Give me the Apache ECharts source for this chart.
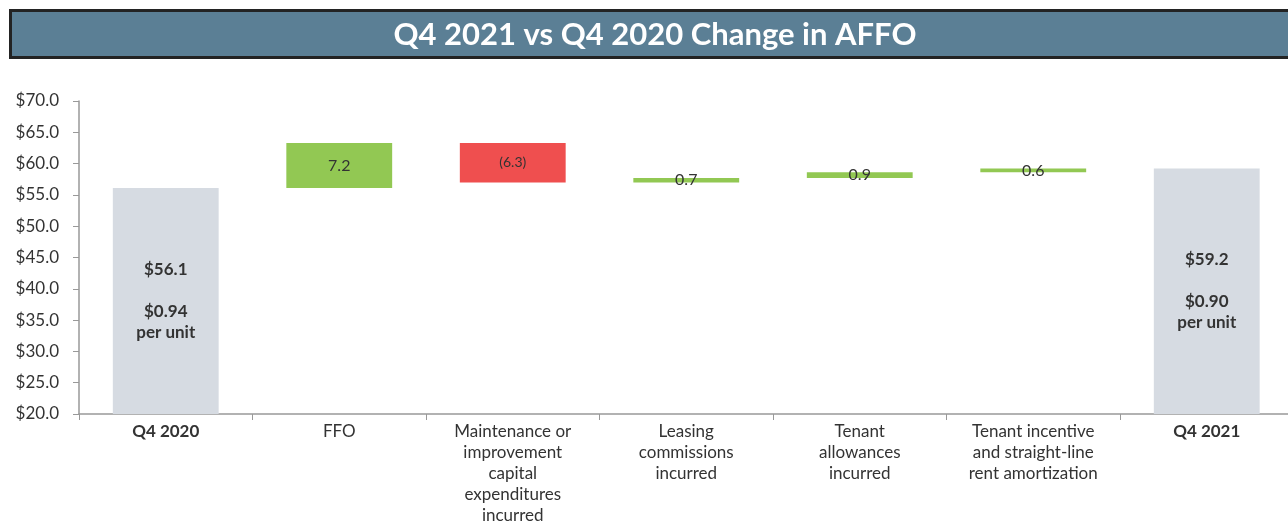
<!DOCTYPE html>
<html>
<head>
<meta charset="utf-8">
<title>Q4 2021 vs Q4 2020 Change in AFFO</title>
<script src="https://cdn.jsdelivr.net/npm/echarts@6/dist/echarts.min.js"></script>
<style>
	* { margin: 0; padding: 0; }
	body { background: #fff; }
	#main { width: 1288px; height: 523px; }
</style>
</head>
<body>
<div id="main"></div>
<script>
	// 分类与数据
	let categories = ['Q4 2020', 'FFO', 'Maintenance or\nimprovement\ncapital\nexpenditures\nincurred',
		'Leasing\ncommissions\nincurred', 'Tenant\nallowances\nincurred',
		'Tenant incentive\nand straight-line\nrent amortization', 'Q4 2021'];
	let startTotal = 56.1;
	let endTotal = 59.2;
	let changes = [7.2, -6.3, 0.7, 0.9, 0.6];
	let perUnit = ['$0.94', '$0.90'];
	let yMin = 20, yMax = 70, yStep = 5;

	let myColor = { total: '#d6dbe2', up: '#92c853', down: '#ef4f4f', text: '#333333', axis: '#999999' };
	let font = 'Lato';

	// waterfall: transparent base + visible step
	let baseData = [0];
	let stepData = [{ value: startTotal, itemStyle: { color: myColor.total }, kind: 'total', unit: perUnit[0] }];
	let running = startTotal;
	changes.forEach((c) => {
		let low = c >= 0 ? running : running + c;
		baseData.push(Math.round(low * 10) / 10);
		stepData.push({ value: Math.abs(c), itemStyle: { color: c >= 0 ? myColor.up : myColor.down }, kind: 'step', raw: c });
		running = Math.round((running + c) * 10) / 10;
	});
	baseData.push(0);
	stepData.push({ value: endTotal, itemStyle: { color: myColor.total }, kind: 'total', unit: perUnit[1] });

	let myChart = echarts.init(document.getElementById('main'));
	let option = {
		animation: false,
		textStyle: { fontFamily: font },
		graphic: [{
			type: 'rect',
			shape: { x: 10.5, y: 10.5, width: 1290, height: 47 },
			style: { fill: '#5b7f95', stroke: '#232323', lineWidth: 3 }
		}, {
			type: 'text',
			x: 655, y: 35,
			style: {
				text: 'Q4 2021 vs Q4 2020 Change in AFFO',
				fill: '#ffffff',
				font: 'bold 31px Lato',
				align: 'center',
				verticalAlign: 'middle'
			}
		}],
		grid: { left: 79, top: 101, width: 1214.5, height: 313, containLabel: false, outerBoundsMode: 'none' },
		xAxis: {
			type: 'category',
			data: categories,
			axisLine: { lineStyle: { color: myColor.axis, width: 1.5 } },
			axisTick: { show: true, length: 6, interval: 0, lineStyle: { color: myColor.axis } },
			axisLabel: {
				interval: 0,
				margin: 7,
				color: myColor.text,
				fontSize: 17,
				lineHeight: 21,
				fontFamily: font,
				formatter: function (v, i) {
					if (i === 0 || i === categories.length - 1) return '{b|' + v + '}';
					return v;
				},
				rich: { b: { fontWeight: 'bold', fontSize: 17, color: myColor.text, fontFamily: font } }
			}
		},
		yAxis: {
			type: 'value',
			min: yMin, max: yMax, interval: yStep,
			axisLine: { show: true, lineStyle: { color: myColor.axis, width: 1.5 } },
			axisTick: { show: true, length: 6, lineStyle: { color: myColor.axis } },
			splitLine: { show: false },
			axisLabel: {
				margin: 20,
				color: myColor.text,
				fontSize: 17,
				fontFamily: font,
				formatter: (v) => '$' + v.toFixed(1)
			}
		},
		series: [{
			name: 'base',
			type: 'bar',
			stack: 'w',
			barCategoryGap: '39%',
			itemStyle: { color: 'transparent' },
			emphasis: { disabled: true },
			data: baseData
		}, {
			name: 'step',
			type: 'bar',
			stack: 'w',
			barCategoryGap: '39%',
			data: stepData,
			label: {
				show: true,
				position: 'inside',
				color: myColor.text,
				fontSize: 16,
				fontFamily: font,
				lineHeight: 21,
				formatter: function (p) {
					let d = p.data;
					if (d.kind === 'total') {
						return '{t|$' + d.value.toFixed(1) + '}\n\n{t|' + d.unit + '}\n{t|per unit}';
					}
					if (d.raw < 0) return '{n|(' + Math.abs(d.raw).toFixed(1) + ')}';
					return d.raw.toFixed(1);
				},
				rich: {
					t: { fontWeight: 'bold', fontSize: 17, lineHeight: 21, color: myColor.text, fontFamily: font },
					n: { fontSize: 14, color: myColor.text, fontFamily: font }
				}
			}
		}]
	};
	myChart.setOption(option);
</script>
</body>
</html>
